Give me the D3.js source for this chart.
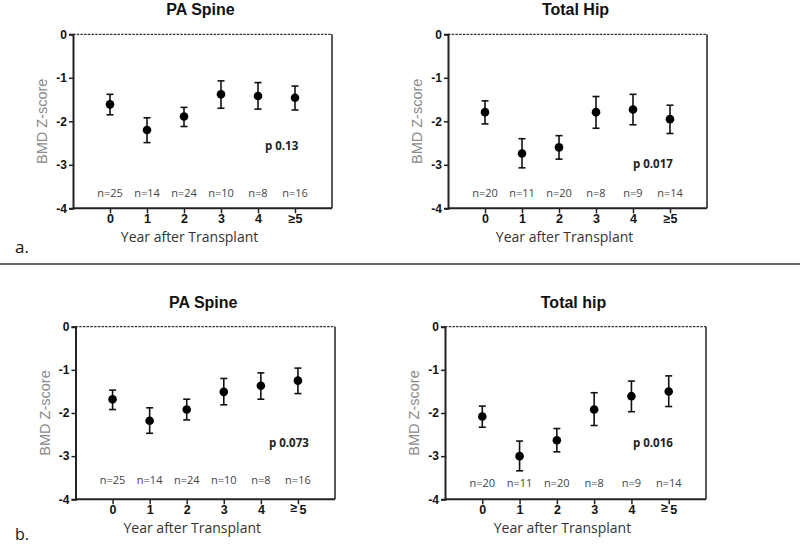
<!DOCTYPE html>
<html>
<head>
<meta charset="utf-8">
<script src="https://cdn.jsdelivr.net/npm/d3@7"></script>
<style>
  body { margin: 0; background: #fff; }
  svg { display: block; }
</style>
</head>
<body>
<svg id="chart" width="800" height="546"></svg>
<script>
// ---------- data ----------
const categories = ["0", "1", "2", "3", "4", "≥5"];
const yTicks = [0, -1, -2, -3, -4];

const spineA_mean = [-1.61, -2.20, -1.89, -1.38, -1.42, -1.46];
const spineA_hi   = [-1.38, -1.92, -1.68, -1.07, -1.11, -1.19];
const spineA_lo   = [-1.85, -2.49, -2.12, -1.70, -1.72, -1.74];
const spineA_n    = ["n=25", "n=14", "n=24", "n=10", "n=8", "n=16"];

const hipA_mean = [-1.79, -2.74, -2.60, -1.79, -1.73, -1.95];
const hipA_hi   = [-1.53, -2.40, -2.33, -1.43, -1.38, -1.63];
const hipA_lo   = [-2.06, -3.07, -2.87, -2.16, -2.08, -2.28];
const hipA_n    = ["n=20", "n=11", "n=20", "n=8", "n=9", "n=14"];

const spineB_mean = [-1.68, -2.18, -1.92, -1.51, -1.37, -1.25];
const spineB_hi   = [-1.47, -1.88, -1.68, -1.20, -1.07, -0.96];
const spineB_lo   = [-1.92, -2.47, -2.16, -1.81, -1.68, -1.55];
const spineB_n    = ["n=25", "n=14", "n=24", "n=10", "n=8", "n=16"];

const hipB_mean = [-2.08, -3.00, -2.63, -1.92, -1.61, -1.50];
const hipB_hi   = [-1.84, -2.65, -2.36, -1.53, -1.26, -1.14];
const hipB_lo   = [-2.33, -3.34, -2.90, -2.29, -1.97, -1.85];
const hipB_n    = ["n=20", "n=11", "n=20", "n=8", "n=9", "n=14"];

const titles = ["PA Spine", "Total Hip", "PA Spine", "Total hip"];
const pLabels = ["p 0.13", "p 0.017", "p 0.073", "p 0.016"];
const xTitle = "Year after Transplant";
const yTitle = "BMD Z-score";

// ---------- layout ----------
const panels = [
  {x0: 73,  x1: 332, y0: 34.3, y1: 208.3, mean: spineA_mean, hi: spineA_hi, lo: spineA_lo, n: spineA_n, title: titles[0], p: pLabels[0], px: 265, py: 150, ny: 196.5, splitGE: false},
  {x0: 448, x1: 707, y0: 34.3, y1: 208.3, mean: hipA_mean, hi: hipA_hi, lo: hipA_lo, n: hipA_n, title: titles[1], p: pLabels[1], px: 633, py: 168, ny: 196.5, splitGE: false},
  {x0: 75.5,x1: 335, y0: 326.7, y1: 499.3, mean: spineB_mean, hi: spineB_hi, lo: spineB_lo, n: spineB_n, title: titles[2], p: pLabels[2], px: 269, py: 447, ny: 484, splitGE: true},
  {x0: 445, x1: 706, y0: 326.7, y1: 499.3, mean: hipB_mean, hi: hipB_hi, lo: hipB_lo, n: hipB_n, title: titles[3], p: pLabels[3], px: 633, py: 447, ny: 487, splitGE: true}
];

const svg = d3.select("#chart");
const boldFont = "'Liberation Sans', Arial, sans-serif";
const softFont = "'Open Sans', 'Noto Sans', sans-serif";

panels.forEach(P => {
  const x = d3.scaleLinear().domain([-1, 6]).range([P.x0, P.x1]);
  const y = d3.scaleLinear().domain([0, -4]).range([P.y0, P.y1]);
  const g = svg.append("g");

  // title
  g.append("text")
    .attr("x", (P.x0 + P.x1) / 2 - 2)
    .attr("y", P.y0 - 19)
    .attr("text-anchor", "middle")
    .attr("font-family", boldFont).attr("font-weight", "bold").attr("font-size", 16)
    .attr("fill", "#111")
    .text(P.title);

  // top dashed line at y = 0
  g.append("line")
    .attr("x1", P.x0).attr("x2", P.x1)
    .attr("y1", y(0)).attr("y2", y(0))
    .attr("stroke", "#333").attr("stroke-width", 1.2)
    .attr("stroke-dasharray", "2.5,1.2");
  // right border
  g.append("line")
    .attr("x1", P.x1).attr("x2", P.x1)
    .attr("y1", y(0)).attr("y2", y(-4))
    .attr("stroke", "#222").attr("stroke-width", 1.5);

  // left axis
  const yAxis = d3.axisLeft(y).tickValues(yTicks).tickSize(4).tickPadding(2)
    .tickFormat(d => d3.format("d")(d).replace("−", "-"));
  const ya = g.append("g").attr("transform", `translate(${P.x0},0)`).call(yAxis);
  ya.select(".domain").attr("stroke", "#222").attr("stroke-width", 2);
  ya.selectAll(".tick line").attr("stroke", "#222").attr("stroke-width", 1.5);
  ya.selectAll(".tick text")
    .attr("font-family", boldFont).attr("font-weight", "bold").attr("font-size", 12)
    .attr("fill", "#111");

  // bottom axis
  const xAxis = d3.axisBottom(x).tickValues(d3.range(categories.length)).tickSize(5).tickPadding(1)
    .tickFormat(i => categories[i]);
  const xa = g.append("g").attr("transform", `translate(0,${P.y1})`).call(xAxis);
  xa.select(".domain").attr("stroke", "#222").attr("stroke-width", 2).attr("d", `M${P.x0},0H${P.x1}`);
  xa.selectAll(".tick line").attr("stroke", "#222").attr("stroke-width", 1.5);
  xa.selectAll(".tick text")
    .attr("font-family", boldFont).attr("font-weight", "bold").attr("font-size", 12.5)
    .attr("fill", "#111");
  if (P.splitGE) {
    xa.selectAll(".tick text").filter(i => i === 5).each(function() {
      const t = d3.select(this);
      t.attr("dy", null).text(null);
      t.append("tspan").attr("dy", "0.5em").text("≥");
      t.append("tspan").attr("dy", "0.22em").attr("dx", "2").text("5");
    });
  }

  // axis titles
  g.append("text")
    .attr("x", x(2.15)).attr("y", P.y1 + 34)
    .attr("text-anchor", "middle")
    .attr("font-family", softFont).attr("font-size", 14).attr("fill", "#333")
    .text(xTitle);
  g.append("text")
    .attr("transform", `translate(${P.x0 - 26},${y(-2)}) rotate(-90)`)
    .attr("text-anchor", "middle")
    .attr("font-family", boldFont).attr("font-size", 14.5).attr("fill", "#8a8a8a")
    .text(yTitle);

  // n labels
  g.selectAll("text.n").data(P.n).join("text")
    .attr("class", "n")
    .attr("x", (d, i) => x(i)).attr("y", P.ny)
    .attr("text-anchor", "middle")
    .attr("font-family", softFont).attr("font-size", 11).attr("fill", "#444")
    .text(d => d);

  // p label
  g.append("text")
    .attr("x", P.px).attr("y", P.py)
    .attr("font-family", softFont).attr("font-weight", "bold").attr("font-size", 11.5)
    .attr("fill", "#222")
    .text(P.p);

  // error bars
  const idx = d3.range(categories.length);
  g.selectAll("line.err").data(idx).join("line")
    .attr("class", "err")
    .attr("x1", i => x(i)).attr("x2", i => x(i))
    .attr("y1", i => y(P.hi[i])).attr("y2", i => y(P.lo[i]))
    .attr("stroke", "#111").attr("stroke-width", 1.6);
  ["hi", "lo"].forEach(k => {
    g.selectAll("line.cap" + k).data(idx).join("line")
      .attr("class", "cap" + k)
      .attr("x1", i => x(i) - 3.5).attr("x2", i => x(i) + 3.5)
      .attr("y1", i => y(P[k][i])).attr("y2", i => y(P[k][i]))
      .attr("stroke", "#111").attr("stroke-width", 1.6);
  });
  g.selectAll("circle.pt").data(idx).join("circle")
    .attr("class", "pt")
    .attr("cx", i => x(i)).attr("cy", i => y(P.mean[i]))
    .attr("r", 4.3)
    .attr("fill", "#000");
});

// panel letters and separator
svg.append("text").attr("x", 15).attr("y", 253)
  .attr("font-family", softFont).attr("font-size", 17).attr("fill", "#111").text("a.");
svg.append("text").attr("x", 15).attr("y", 540)
  .attr("font-family", softFont).attr("font-size", 16).attr("fill", "#111").text("b.");
svg.append("line").attr("x1", 0).attr("x2", 800).attr("y1", 264).attr("y2", 264)
  .attr("stroke", "#333").attr("stroke-width", 1.5);
</script>
</body>
</html>
